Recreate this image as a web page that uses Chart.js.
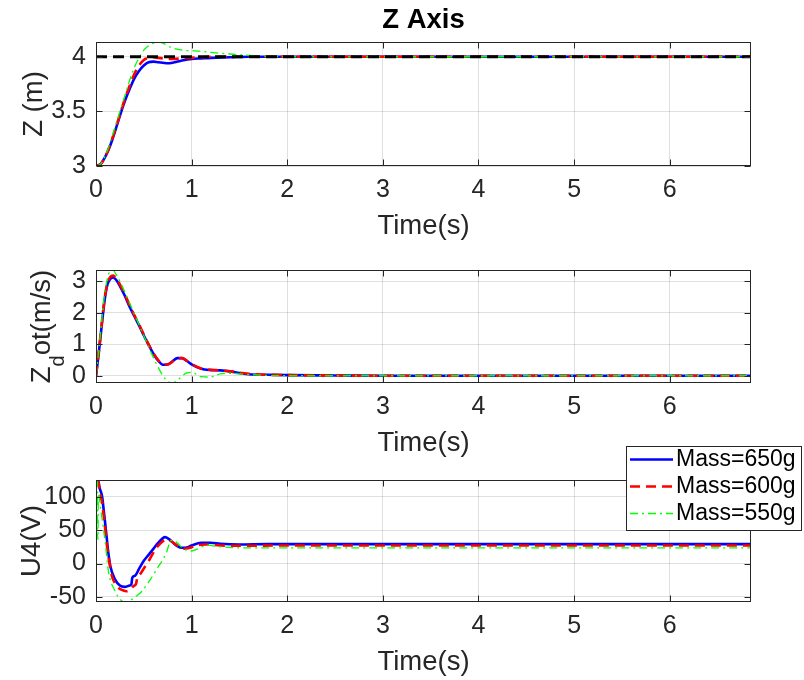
<!DOCTYPE html>
<html><head><meta charset="utf-8">
<script src="https://cdn.jsdelivr.net/npm/chart.js@4.4.1/dist/chart.umd.min.js"></script>
<style>
html,body{margin:0;padding:0;background:#fff;}
#wrap{position:relative;width:804px;height:680px;overflow:hidden;background:#fff;}
.c{position:absolute;left:0;width:804px;}
canvas{display:block;}
</style></head><body>
<div id="wrap">
<div class="c" style="top:0px;height:250px"><canvas id="c1" width="804" height="250"></canvas></div>
<div class="c" style="top:245px;height:220px"><canvas id="c2" width="804" height="220"></canvas></div>
<div class="c" style="top:440px;height:240px"><canvas id="c3" width="804" height="240"></canvas></div>
</div>
<script>
// ---------- data ----------
const seriesLabels = ['Mass=650g', 'Mass=600g', 'Mass=550g'];
const xTitle = 'Time(s)';
const chartTitle = 'Z Axis';

// Z position
const t1 = [0,0.05,0.1,0.15,0.2,0.25,0.3,0.35,0.4,0.45,0.5,0.55,0.6,0.65,0.7,0.75,0.8,0.9,1.0,1.1,1.2,1.4,1.6,1.8,2.0,2.5,3,4,5,6,6.85];
const z650 = [3.0,3.02,3.09,3.19,3.32,3.46,3.59,3.70,3.80,3.87,3.92,3.95,3.955,3.95,3.945,3.94,3.945,3.965,3.98,3.985,3.99,3.995,4.0,4.0,4.0,4.0,4.0,4.0,4.0,4.0,4.0];
const z600 = [3.0,3.02,3.09,3.2,3.33,3.47,3.61,3.73,3.84,3.92,3.97,3.99,3.995,3.99,3.985,3.98,3.98,3.985,3.99,3.995,4.0,4.0,4.0,4.0,4.0,4.0,4.0,4.0,4.0,4.0,4.0];
const z550 = [3.0,3.02,3.1,3.22,3.36,3.5,3.64,3.78,3.9,3.99,4.06,4.1,4.125,4.135,4.125,4.1,4.08,4.06,4.055,4.05,4.04,4.025,4.012,4.005,4.0,4.0,4.0,4.0,4.0,4.0,4.0];
const tRef = [0, 6.85];
const zRef = [4, 4];

// Z velocity
const t2 = [0,0.03,0.06,0.09,0.12,0.15,0.18,0.21,0.25,0.3,0.35,0.4,0.45,0.5,0.55,0.6,0.65,0.7,0.75,0.8,0.85,0.9,0.95,1.0,1.1,1.2,1.3,1.4,1.5,1.6,1.8,2.0,2.5,3,4,5,6,6.85];
const v650 = [0,0.75,1.6,2.4,2.9,3.08,3.12,3.05,2.85,2.55,2.2,1.9,1.6,1.28,0.98,0.7,0.48,0.35,0.36,0.46,0.56,0.56,0.47,0.36,0.22,0.18,0.17,0.14,0.09,0.05,0.03,0.02,0.01,0,0,0,0,0];
const v600 = [0,0.78,1.65,2.45,2.95,3.14,3.18,3.1,2.9,2.6,2.25,1.93,1.63,1.31,1.0,0.72,0.5,0.36,0.36,0.45,0.55,0.56,0.48,0.37,0.23,0.19,0.17,0.14,0.1,0.06,0.03,0.02,0.01,0,0,0,0,0];
const v550 = [0,0.82,1.75,2.6,3.1,3.33,3.35,3.22,3.0,2.67,2.32,1.97,1.62,1.27,0.92,0.58,0.27,0.0,-0.18,-0.23,-0.15,-0.01,0.09,0.11,-0.03,-0.04,0.06,0.08,0.06,0.04,0.01,0.0,0,0,0,0,0,0];

// U4 control input
const tU650 = [0,0.02,0.04,0.063,0.08,0.1,0.116,0.13,0.15,0.2,0.25,0.3,0.35,0.37,0.38,0.41,0.45,0.5,0.55,0.6,0.65,0.7,0.72,0.76,0.8,0.85,0.9,0.95,1.0,1.1,1.2,1.3,1.5,1.8,2.2,3,4,5,6,6.85];
const u650 = [125,125,112,101,81,55,33,15,-4,-24,-33,-35,-33,-31,-21,-18,-8,4,13,22,31,38,39.5,37,32,26,23.5,24,27,31,31,29.5,28.5,29,29,29,29,29,29,29];
const tU600 = [0,0.02,0.04,0.063,0.09,0.115,0.14,0.167,0.2,0.237,0.28,0.32,0.36,0.39,0.42,0.43,0.446,0.48,0.515,0.56,0.62,0.68,0.74,0.78,0.83,0.88,0.93,0.98,1.05,1.15,1.3,1.5,2,3,4,5,6,6.85];
const u600 = [125,124,108,91,60,26,2,-19,-30,-36.6,-40,-41.5,-39,-34,-30,-22,-19,-12,-4,6,21,31,36,34,29,24,22,23.5,27,28.5,27,26.5,27,27,27,27,27,27];
const tU550 = [0,0.015,0.018,0.021,0.024,0.05,0.075,0.097,0.13,0.2,0.254,0.31,0.36,0.42,0.48,0.568,0.655,0.7,0.742,0.777,0.81,0.85,0.9,0.98,1.05,1.16,1.3,1.5,2,3,4,5,6,6.85];
const u550 = [125,121,36,36,105,82,55,31,-11.5,-41.5,-54,-57.6,-55,-49,-41.5,-24,-4,6,18.5,33.5,35,31,24,18.5,21,27.5,25,23.5,23.5,23.5,23.5,23.5,23.5,23.5];

// ---------- helpers ----------
const FONT = "'Liberation Sans', Arial, Helvetica, sans-serif";
const INK = '#262626';
const GRID = 'rgba(38,38,38,0.15)';
const pts = (t, v) => t.map((x, i) => ({x: x, y: v[i]}));
const fmt = v => String(Number(Number(v).toFixed(3)));

const styles = [
  {borderColor:'#0000ff', borderWidth:2.6, borderDash:[], order:3},
  {borderColor:'#ff0000', borderWidth:2.6, borderDash:[10,6], order:2},
  {borderColor:'#00ff00', borderWidth:1.3, borderDash:[8,4,2,4], order:1}
];
function ds(label, data, st){
  return Object.assign({label:label, data:data, pointRadius:0, pointHoverRadius:0, fill:false,
    cubicInterpolationMode:'monotone'}, st);
}

const framePlugin = {
  id:'frame',
  afterDraw(chart){
    const {ctx, chartArea:a, scales} = chart;
    ctx.save();
    ctx.strokeStyle = INK; ctx.lineWidth = 1; ctx.setLineDash([]);
    const L = Math.round(a.left)+0.5, R = Math.round(a.right)-0.5, T = Math.round(a.top)+0.5, B = Math.round(a.bottom)-0.5;
    ctx.strokeRect(L, T, R-L, B-T);
    const len = 6;
    ctx.beginPath();
    scales.x.ticks.forEach(tk => {
      const px = Math.round(scales.x.getPixelForValue(tk.value))+0.5;
      ctx.moveTo(px, B); ctx.lineTo(px, B-len);
      ctx.moveTo(px, T); ctx.lineTo(px, T+len);
    });
    scales.y.ticks.forEach(tk => {
      const py = Math.round(scales.y.getPixelForValue(tk.value))+0.5;
      ctx.moveTo(L, py); ctx.lineTo(L+len, py);
      ctx.moveTo(R, py); ctx.lineTo(R-len, py);
    });
    ctx.stroke();
    ctx.restore();
  }
};

function yLabelPlugin(parts, x){
  return {
    id:'ylab',
    afterDraw(chart){
      const {ctx, chartArea:a} = chart;
      const cy = (a.top + a.bottom)/2;
      ctx.save();
      ctx.translate(x, cy);
      ctx.rotate(-Math.PI/2);
      ctx.fillStyle = INK; ctx.textBaseline = 'alphabetic'; ctx.textAlign = 'left';
      let total = 0;
      const w = parts.map(p => { ctx.font = p.size + 'px ' + FONT; const m = ctx.measureText(p.text).width; total += m; return m; });
      let cx = -total/2;
      parts.forEach((p, i) => { ctx.font = p.size + 'px ' + FONT; ctx.fillText(p.text, cx, p.dy || 0); cx += w[i]; });
      ctx.restore();
    }
  };
}

const legendPlugin = {
  id:'boxlegend',
  afterDraw(chart){
    const ctx = chart.ctx;
    const bx = 626, by = 6, bw = 176, bh = 85;
    ctx.save();
    ctx.fillStyle = '#fff'; ctx.fillRect(bx, by, bw, bh);
    ctx.strokeStyle = INK; ctx.lineWidth = 1; ctx.setLineDash([]);
    ctx.strokeRect(bx+0.5, by+0.5, bw-1, bh-1);
    const items = chart.data.datasets.slice().sort((p, q) => q.order - p.order);
    items.forEach((d, i) => {
      const y = by + 13 + i*27;
      ctx.strokeStyle = d.borderColor; ctx.lineWidth = d.borderWidth; ctx.setLineDash(d.borderDash);
      ctx.beginPath(); ctx.moveTo(630, y+0.5); ctx.lineTo(673, y+0.5); ctx.stroke();
      ctx.setLineDash([]);
      ctx.fillStyle = '#000'; ctx.font = 'normal normal 23px ' + FONT; ctx.textBaseline = 'middle'; ctx.textAlign = 'left';
      ctx.fillText(d.label, 676, y+1);
    });
    ctx.restore();
  }
};

function makeOptions(opt){
  return {
    responsive:false, animation:false, devicePixelRatio:1,
    events:[],
    layout:{padding:{top:opt.padTop, right:53, bottom:0, left:0}},
    plugins:{
      legend:{display:false}, tooltip:{enabled:false},
      title: opt.title ? {display:true, text:opt.title, fullSize:false, color:'#000',
        font:{family:FONT, size:27.5, weight:'bold'}, padding:{top:3.5, bottom:5.5}} : {display:false}
    },
    scales:{
      x:{type:'linear', min:0, max:6.85,
        ticks:{stepSize:1, includeBounds:false, color:INK, padding:9, maxRotation:0, font:{family:FONT, size:25}, callback:fmt},
        grid:{color:GRID, drawTicks:false, lineWidth:1}, border:{display:false},
        title:{display:true, text:xTitle, color:INK, font:{family:FONT, size:27.5}, padding:{top:0, bottom:opt.titlePad}},
        afterFit(s){ s.height = opt.xh; }
      },
      y:{type:'linear', min:opt.ymin, max:opt.ymax,
        ticks:{stepSize:opt.step, includeBounds:false, color:INK, padding:10, font:{family:FONT, size:25}, callback:fmt},
        grid:{color:GRID, drawTicks:false, lineWidth:1}, border:{display:false},
        afterFit(s){ s.width = 96; }
      }
    }
  };
}

new Chart(document.getElementById('c1'), {
  type:'line',
  data:{datasets:[
    ds(seriesLabels[0], pts(t1, z650), styles[0]),
    ds(seriesLabels[1], pts(t1, z600), styles[1]),
    ds(seriesLabels[2], pts(t1, z550), styles[2]),
    ds('Reference', pts(tRef, zRef), {borderColor:'#000000', borderWidth:2.8, borderDash:[11,6], order:0, cubicInterpolationMode:'default'})
  ]},
  options: makeOptions({padTop:0, title:chartTitle, ymin:3, ymax:4.135, step:0.5, xh:84, titlePad:7.5}),
  plugins:[framePlugin, yLabelPlugin([{text:'Z (m)', size:27.5}], 42)]
});

new Chart(document.getElementById('c2'), {
  type:'line',
  data:{datasets:[
    ds(seriesLabels[0], pts(t2, v650), styles[0]),
    ds(seriesLabels[1], pts(t2, v600), styles[1]),
    ds(seriesLabels[2], pts(t2, v550), styles[2])
  ]},
  options: makeOptions({padTop:16, ymin:-0.23, ymax:3.36, step:1, xh:82, titlePad:5.5}),
  plugins:[framePlugin, yLabelPlugin([{text:'Z', size:27.5}, {text:'d', size:20, dy:14}, {text:'ot(m/s)', size:27.5}], 50)]
});

new Chart(document.getElementById('c3'), {
  type:'line',
  data:{datasets:[
    ds(seriesLabels[0], pts(tU650, u650), styles[0]),
    ds(seriesLabels[1], pts(tU600, u600), styles[1]),
    ds(seriesLabels[2], pts(tU550, u550), styles[2])
  ]},
  options: makeOptions({padTop:40, ymin:-57.6, ymax:125, step:50, xh:78, titlePad:1.5}),
  plugins:[framePlugin, yLabelPlugin([{text:'U4(V)', size:27.5}], 40), legendPlugin]
});
</script>
</body></html>
